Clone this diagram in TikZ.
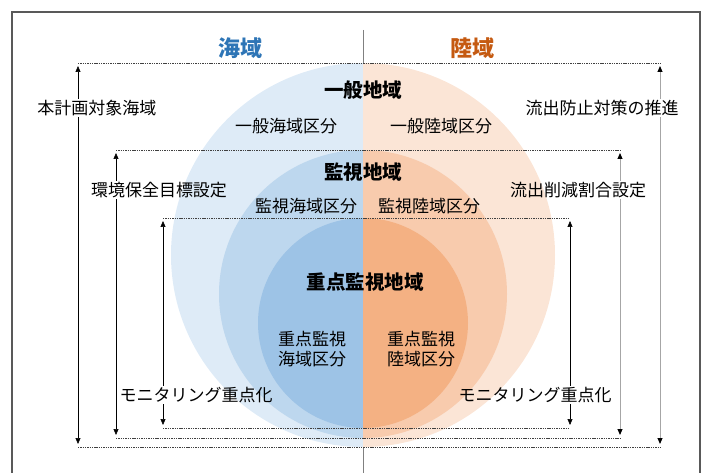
\documentclass[tikz,border=0pt]{standalone}
\usepackage{fontspec}
\setmainfont{Noto Sans CJK JP}
\usetikzlibrary{arrows.meta}
\definecolor{bA}{HTML}{DEEBF7}
\definecolor{bB}{HTML}{BDD7EE}
\definecolor{bC}{HTML}{9DC3E6}
\definecolor{oA}{HTML}{FBE5D6}
\definecolor{oB}{HTML}{F8CBAD}
\definecolor{oC}{HTML}{F4B183}
\definecolor{seaT}{HTML}{2E75B6}
\definecolor{landT}{HTML}{C55A11}
\definecolor{frameC}{HTML}{595959}
\definecolor{dotC}{HTML}{404040}
\definecolor{grayL}{HTML}{A6A6A6}
\tikzset{
  txt/.style={inner sep=1pt, font=\fontsize{17}{20}\selectfont, align=center},
  zone/.style={inner sep=1pt, font=\fontsize{19.5}{22}\selectfont\bfseries},
  ttl/.style={inner sep=1pt, font=\fontsize{22}{24}\selectfont\bfseries},
  dotline/.style={dotC, line width=0.8pt, dash pattern=on 1.4pt off 0.9pt},
  arrk/.style={black, line width=0.6pt, -{Triangle[length=6pt,width=5pt]}},
  arrg/.style={grayL, line width=1pt, -{Triangle[length=6pt,width=5pt,color=black,fill=black]}},
}
\begin{document}
\begin{tikzpicture}[x=1pt,y=-1pt]
\useasboundingbox (0,0) rectangle (705,473);
% frame
\draw[frameC, line width=1.2pt] (12,473) -- (12,12) -- (700,12) -- (700,473);
% center line
\coordinate (ct) at (363,30);
\coordinate (cb) at (363,473);
\draw[gray, line width=0.8pt] (ct) -- (cb);
% titles
\node[ttl, text=seaT] (sea) at (240,48) {海域};
\node[ttl, text=landT] (land) at (472,48) {陸域};
% half discs
\fill[bA] (363,63) arc[start angle=-90, end angle=-270, radius=192] -- cycle;
\fill[oA] (363,63) arc[start angle=-90, end angle=90, radius=192] -- cycle;
\fill[bB] (363,150) arc[start angle=-90, end angle=-270, radius=144] -- cycle;
\fill[oB] (363,150) arc[start angle=-90, end angle=90, radius=144] -- cycle;
\fill[bC] (363,218) arc[start angle=-90, end angle=-270, radius=105] -- cycle;
\fill[oC] (363,218) arc[start angle=-90, end angle=90, radius=105] -- cycle;
% dotted levels
\coordinate (d1l) at (78,63);  \coordinate (d1r) at (660,63);
\coordinate (d2l) at (116,150); \coordinate (d2r) at (620,150);
\coordinate (d3l) at (163,218); \coordinate (d3r) at (570,218);
\coordinate (e1l) at (78,447);  \coordinate (e1r) at (660,447);
\coordinate (e2l) at (116,438); \coordinate (e2r) at (620,438);
\coordinate (e3l) at (163,428); \coordinate (e3r) at (570,428);
\draw[dotline] (d1l) -- (d1r);
\draw[dotline] (d2l) -- (d2r);
\draw[dotline] (d3l) -- (d3r);
\draw[dotline] (e1l) -- (e1r);
\draw[dotline] (e2l) -- (e2r);
\draw[dotline] (e3l) -- (e3r);
% arrow ends
\coordinate (a1t) at (78,66);  \coordinate (a1b) at (78,444);
\coordinate (a2t) at (116,153); \coordinate (a2b) at (116,435);
\coordinate (a3t) at (163,221); \coordinate (a3b) at (163,425);
\coordinate (b1t) at (660,66);  \coordinate (b1b) at (660,444);
\coordinate (b2t) at (620,153); \coordinate (b2b) at (620,435);
\coordinate (b3t) at (570,221); \coordinate (b3b) at (570,425);
% zone labels
\node[zone] (z1) at (363,90) {一般地域};
\node[txt] (z1s) at (286,126) {一般海域区分};
\node[txt] (z1l) at (441,126) {一般陸域区分};
\node[zone] (z2) at (363,172) {監視地域};
\node[zone] (z3) at (365,282) {重点監視地域};
\node[txt] (z2s) at (306,206) {監視海域区分};
\node[txt] (z2l) at (429,206) {監視陸域区分};
\node[txt] (z3s) at (312,349) {重点監視\\海域区分};
\node[txt] (z3l) at (421,349) {重点監視\\陸域区分};
% side labels
\node[txt] (s1) at (97,108) {本計画対象海域};
\node[txt] (s2) at (159,190) {環境保全目標設定};
\node[txt] (s3) at (196,395) {モニタリング重点化};
\node[txt] (r1) at (602,108) {流出防止対策の推進};
\node[txt] (r2) at (578,190) {流出削減割合設定};
\node[txt] (r3) at (535,395) {モニタリング重点化};
% left arrows
\draw[arrk] (s1.north -| a1t) -- (a1t);
\draw[arrk] (s1.south -| a1b) -- (a1b);
\draw[arrk] (s2.north -| a2t) -- (a2t);
\draw[arrk] (s2.south -| a2b) -- (a2b);
\draw[arrk] (s3.north -| a3t) -- (a3t);
\draw[arrk] (s3.south -| a3b) -- (a3b);
% right arrows
\draw[arrg] (r1.north -| b1t) -- (b1t);
\draw[arrg] (r1.south -| b1b) -- (b1b);
\draw[arrg] (r2.north -| b2t) -- (b2t);
\draw[arrg] (r2.south -| b2b) -- (b2b);
\draw[arrk] (r3.north -| b3t) -- (b3t);
\draw[arrk] (r3.south -| b3b) -- (b3b);
\end{tikzpicture}
\end{document}
